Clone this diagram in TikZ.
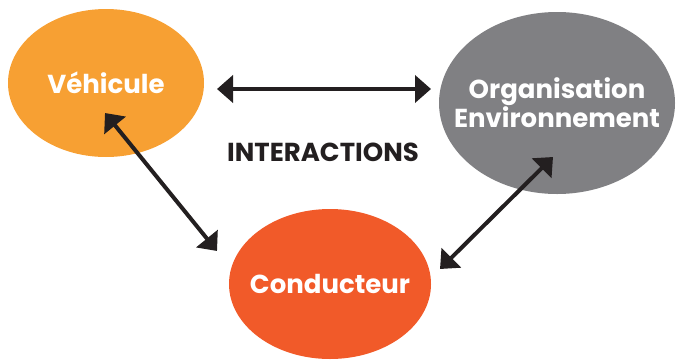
\documentclass[tikz,border=0pt]{standalone}
\usepackage{fontspec}
\setmainfont{Poppins}
\usetikzlibrary{arrows.meta,shapes.geometric}
\definecolor{vehorange}{RGB}{247,160,51}
\definecolor{envgray}{RGB}{128,128,131}
\definecolor{condred}{RGB}{241,90,41}
\definecolor{arrowdark}{RGB}{35,31,32}
\tikzset{
  bulle/.style={ellipse, inner sep=0pt},
  etiquette/.style={text=white, font=\fontsize{26}{27}\selectfont\bfseries, align=center},
  lien/.style={<->, line width=4pt, draw=arrowdark}
}
\begin{document}
\begin{tikzpicture}[x=1pt, y=-1pt, line join=round, >={Triangle[length=16pt,width=27pt]}]
		\useasboundingbox (0,0) rectangle (676,359);
		\node[bulle, fill=vehorange, minimum width=196pt, minimum height=148pt, label={[etiquette]center:Véhicule}] (veh) at (106,83) {};
		\node[bulle, fill=envgray, minimum width=236pt, minimum height=182pt, label={[etiquette]center:Organisation\\Environnement}] (env) at (557,103) {};
		\node[bulle, fill=condred, minimum width=202pt, minimum height=150pt, label={[etiquette]center:Conducteur}] (cond) at (330,284) {};
		\node[text=arrowdark, font=\fontsize{26}{27}\selectfont\bfseries] (inter) at (323,152) {INTERACTIONS};
		\coordinate (vehA) at (217,89);
		\coordinate (envA) at (431,89);
		\coordinate (vehB) at (105,113);
		\coordinate (condB) at (217,251);
		\coordinate (envC) at (553,157);
		\coordinate (condC) at (440,269);
		\draw[lien] (vehA)--(envA);
		\draw[lien] (vehB)--(condB);
		\draw[lien] (condC)--(envC);
\end{tikzpicture}
\end{document}
